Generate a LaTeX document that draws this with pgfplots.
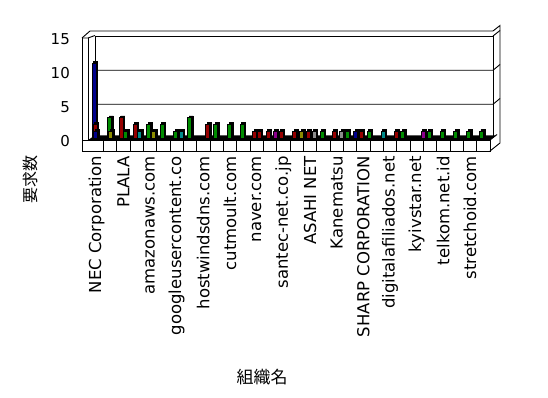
\documentclass[border=0pt]{standalone}
\usepackage{pgfplots}
\pgfplotsset{compat=1.18}
\usepackage{fontspec}
\setmainfont{DejaVu Sans}
\newfontfamily\cjk{Noto Sans CJK JP}
\definecolor{cblue}{RGB}{0,0,140}
\definecolor{cred}{RGB}{150,0,0}
\definecolor{cgreen}{RGB}{0,140,0}
\definecolor{colive}{RGB}{140,140,0}
\definecolor{cteal}{RGB}{0,140,140}
\definecolor{cgray}{RGB}{140,140,140}
\definecolor{cpurple}{RGB}{140,0,140}
\begin{document}
\begin{tikzpicture}[x=1pt,y=1pt]
\path[use as bounding box] (0,0) rectangle (548,398);
\begin{scope}[yshift=398pt, yscale=-1, line width=0.9pt, line join=miter]
  % floor top (dark)
  \fill[black] (88,140) -- (490,140) -- (496,135.5) -- (95,135.5) -- cycle;
  % back wall
  \draw (95,138) -- (95,36) -- (493,36) -- (493,138);
  \draw (95,70.3) -- (493,70.3) -- (500,64.5);
  \draw (95,104.3) -- (493,104.3) -- (500,98.5);
  \draw (493,36) -- (500,30.5);
  % outer top and right
  \draw (82,38) -- (90,31) -- (493,31) -- (500,25.5) -- (500,143) -- (490,151);
  % left wall
  \draw (82,38) -- (82,151);
  \draw (88,38) -- (88,140);
  \draw (82,38) -- (88,38) -- (95,35.5);
  % floor front with cells
  \draw (82,140) rectangle (490,151);
  \draw (490,140) -- (497,134.5);
  \foreach \k in {1,...,29} {\draw ({90+13.333*\k},140) -- ({90+13.333*\k},151);}
\end{scope}
\begin{axis}[
  at={(90pt,260pt)}, anchor=south west, scale only axis,
  width=400pt, height=102pt,
  xmin=-0.5, xmax=29.5, ymin=0, ymax=15,
  axis line style={draw=none}, major tick length=0pt,
  clip=false,
  ytick={0,5,10,15}, yticklabels={0,5,10,15},
  yticklabel style={font=\fontsize{15}{15}\selectfont, anchor=east, inner sep=0pt, xshift=-20pt, yshift=-3pt},
  xtick={0,2,...,28},
  xticklabels={NEC Corporation,PLALA,amazonaws.com,googleusercontent.co,hostwindsdns.com,cutmoult.com,naver.com,santec-net.co.jp,ASAHI NET,Kanematsu,SHARP CORPORATION,digitalafiliados.net,kyivstar.net,telkom.net.id,stretchoid.com},
  xticklabel style={font=\fontsize{16.5}{16.5}\selectfont, rotate=90, anchor=east, inner sep=0pt},
  xticklabel shift=18pt,
  every axis plot/.append style={ybar, bar width=4pt, bar shift=0pt, draw=black, line width=0.8pt,
     preaction={fill=black, draw=black, transform canvas={shift={(1.6pt,1.6pt)}}}},
]
\addplot[fill=cblue] coordinates {(-0.185,11)};
\addplot[fill=cred] coordinates {(-0.125,2) (1.84,3) (2.875,2) (8.335,2) (11.84,1) (12.175,1) (12.87,1) (13.825,1) (14.84,1) (15.87,1) (17.815,1) (19.825,1) (22.47,1)};
\addplot[fill=cgreen] coordinates {(0.975,3) (2.16,1) (3.91,2) (4.915,2) (5.91,1) (6.96,3) (8.935,2) (9.96,2) (10.915,2) (16.915,1) (18.79,1) (20.44,1) (22.96,1) (24.94,1) (25.915,1) (26.91,1) (27.89,1) (28.85,1)};
\addplot[fill=cblue] coordinates {(-0.065,1)};
\addplot[fill=colive] coordinates {(1.06,1) (4.25,1) (15.38,1)};
\addplot[fill=cteal] coordinates {(3.21,1) (6.325,1) (21.475,1)};
\addplot[fill=cgray] coordinates {(16.32,1) (18.38,1)};
\addplot[fill=cpurple] coordinates {(13.375,1) (24.49,1)};
\addplot[fill=cblue] coordinates {(19.435,1)};
\end{axis}
\node[rotate=90, font=\cjk\fontsize{16}{16}\selectfont] at (30,218) {要求数};
\node[font=\cjk\fontsize{17}{17}\selectfont] at (262,21) {組織名};
\end{tikzpicture}
\end{document}
